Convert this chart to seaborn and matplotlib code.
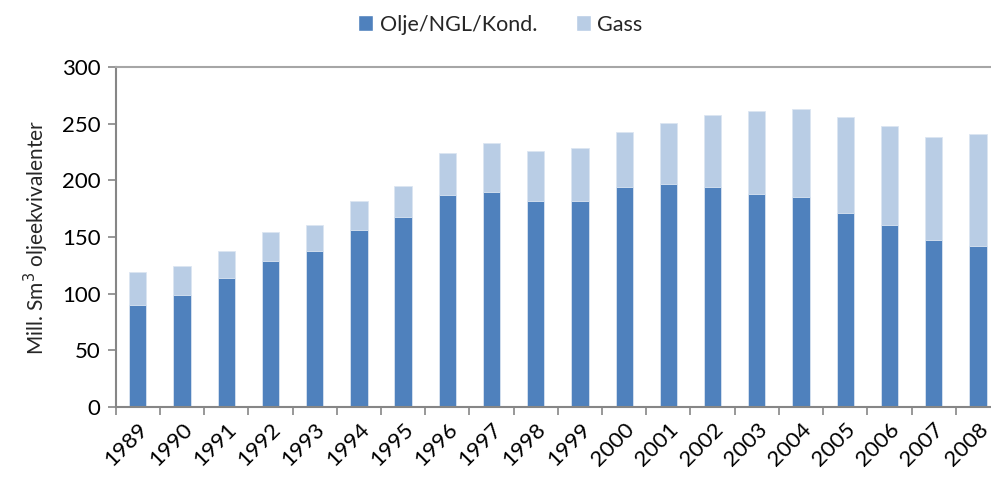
import numpy as np
import pandas as pd
import matplotlib
matplotlib.use("Agg")
import matplotlib.pyplot as plt
from matplotlib.patches import Patch
import seaborn as sns

years = [str(y) for y in range(1989, 2009)]
oil = [90, 99, 114, 129, 138, 156, 168, 187, 190, 182,
       182, 194, 197, 194, 188, 185, 171, 161, 147, 142]
total = [119, 124, 138, 154, 161, 182, 195, 224, 233, 226,
         229, 243, 251, 258, 261, 263, 256, 248, 238, 241]
series_names = ["Olje/NGL/Kond.", "Gass"]
oil_color = "#4F81BD"
gas_color = "#B9CDE5"

sns.set_theme(style="white")
plt.rcParams["font.family"] = ["Lato", "DejaVu Sans"]

df = pd.DataFrame({"year": years, "oil": oil, "total": total})

fig = plt.figure(figsize=(9.91, 4.86), dpi=100)
ax = fig.add_axes([115.7 / 991, 1 - 406.7 / 486, (1000 - 115.7) / 991, 339.4 / 486])

sns.barplot(data=df, x="year", y="total", color=gas_color, width=0.39,
            saturation=1, edgecolor="#DCE6F2", linewidth=0.6, ax=ax)
sns.barplot(data=df, x="year", y="oil", color=oil_color, width=0.39,
            saturation=1, edgecolor="#DCE6F2", linewidth=0.6, ax=ax)

ax.set_xlim(-0.5, len(years) - 0.5)
ax.set_ylim(0, 300)
ax.set_yticks(np.arange(0, 301, 50))
ax.set_xlabel("")
ax.set_ylabel("Mill. Sm$^3$ oljeekvivalenter", fontsize=15, labelpad=8)

ax.tick_params(axis="y", labelsize=16, length=6, width=1.2, color="#868686",
               left=True, pad=5, labelcolor="black")
ax.tick_params(axis="x", which="major", length=0, labelsize=16, pad=9,
               labelcolor="black")
ax.set_xticks(np.arange(-0.5, len(years), 1.0), minor=True)
ax.tick_params(axis="x", which="minor", length=6, width=1.2, color="#868686",
               bottom=True)
for lbl in ax.get_xticklabels():
    lbl.set_rotation(45)
    lbl.set_ha("right")
    lbl.set_rotation_mode("anchor")

for side in ["left", "bottom", "top"]:
    ax.spines[side].set_color("#868686")
    ax.spines[side].set_linewidth(1.5)
ax.spines["top"].set_color("#A6A6A6")
ax.spines["right"].set_visible(False)

handles = [Patch(facecolor=oil_color, label=series_names[0]),
           Patch(facecolor=gas_color, label=series_names[1])]
fig.legend(handles=handles, loc="upper center", bbox_to_anchor=(0.505, 1.01),
           ncol=2, frameon=False, fontsize=15.5, handlelength=0.7,
           handleheight=0.7, handletextpad=0.3, columnspacing=1.8)

fig.savefig("out.png", dpi=100)
